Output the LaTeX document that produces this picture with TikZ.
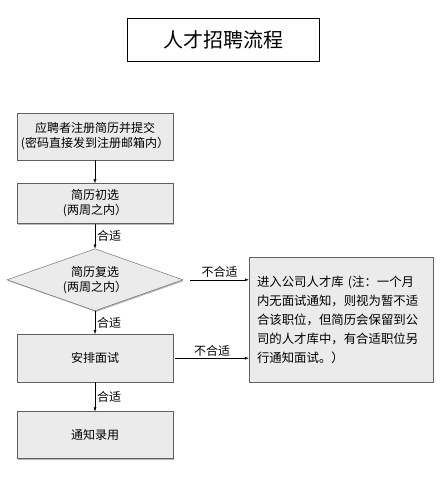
\documentclass[tikz,border=0pt]{standalone}
\usepackage{fontspec}
\setmainfont{Noto Sans CJK SC}
\usetikzlibrary{arrows.meta, positioning, shapes.geometric, shadows}

\begin{document}
\begin{tikzpicture}[x=1pt, y=-1pt,
  stepbox/.style={draw=gray!75!black, fill=gray!16, minimum width=156pt, align=center,
                  font=\fontsize{12}{15}\selectfont,
                  drop shadow={shadow xshift=1.2pt, shadow yshift=-1.2pt, fill=gray!70, opacity=0.8}},
  choice/.style={diamond, aspect=2.8, draw=gray!75!black, fill=gray!16, minimum width=176pt, minimum height=62pt,
                 inner sep=0pt, align=center, font=\fontsize{12}{15}\selectfont,
                 drop shadow={shadow xshift=1.2pt, shadow yshift=-1.2pt, fill=gray!70, opacity=0.8}},
  notebox/.style={draw=gray!75!black, fill=gray!16, minimum width=184pt, minimum height=125pt,
                  text width=168pt, align=left, font=\fontsize{12.4}{19}\selectfont,
                  drop shadow={shadow xshift=1.2pt, shadow yshift=-1.2pt, fill=gray!70, opacity=0.8}},
  titlebox/.style={draw=black, fill=white, minimum width=192pt, minimum height=43pt,
                   font=\fontsize{20}{24}\selectfont},
  arr/.style={-{Latex[length=4pt, width=3pt]}, black},
  lab/.style={font=\fontsize{12}{14}\selectfont, inner sep=2pt}
]
\useasboundingbox (0,0) rectangle (440,482);
% Title
\node[titlebox](title) at (223,39.5){人才招聘流程};
% Main flow
\node[stepbox, minimum height=47pt](reg) at (95,136.5){应聘者注册简历并提交\\(密码直接发到注册邮箱内）};
\node[stepbox, minimum height=40pt, below=23pt of reg](first){简历初选\\(两周之内）};
\node[choice, below=25pt of first](second){简历复选\\(两周之内）};
\node[stepbox, minimum height=48pt, below=23pt of second](interview){安排面试};
\node[stepbox, minimum height=47pt, below=29pt of interview](hire){通知录用};
% Talent pool
\node[notebox](pool) at (341,319.5){进入公司人才库 (注：一个月\\内无面试通知，则视为暂不适\\合该职位，但简历会保留到公\\司的人才库中，有合适职位另\\行通知面试。）};
% Arrows
\draw[arr](reg)--(first);
\draw[arr](first)--node[right,lab]{合适}(second);
\draw[arr](second)--node[right,lab]{合适}(interview);
\draw[arr](interview)--node[right,lab]{合适}(hire);
\draw[arr]([xshift=7pt]second.east)--node[above,lab]{不合适}(second.east -| pool.west);
\draw[arr]([xshift=2pt]interview.east)--node[above,lab]{不合适}(interview.east -| pool.west);
\end{tikzpicture}
\end{document}
